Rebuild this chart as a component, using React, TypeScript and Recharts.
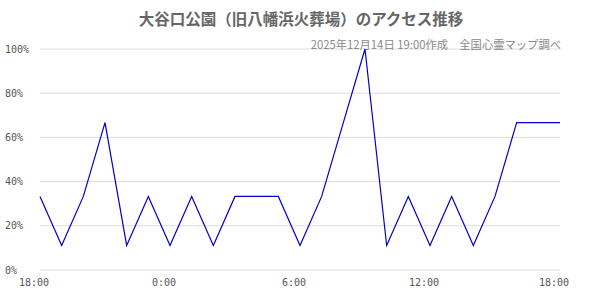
import React from "react";
import { LineChart, Line, XAxis, YAxis, CartesianGrid } from "recharts";

const TITLE = "大谷口公園（旧八幡浜火葬場）のアクセス推移";
const SUBTITLE = "2025年12月14日 19:00作成　全国心霊マップ調べ";

// hours since 18:00 of previous day
const hours = [0, 1, 2, 3, 4, 5, 6, 7, 8, 9, 10, 11, 12, 13, 14, 15, 16, 17, 18, 19, 20, 21, 22, 23, 24];
const access = [
  33.3, 11.1, 33.3, 66.7, 11.1, 33.3, 11.1, 33.3, 11.1, 33.3, 33.3, 33.3, 11.1,
  33.3, 66.7, 100, 11.1, 33.3, 11.1, 33.3, 11.1, 33.3, 66.7, 66.7, 66.7,
];
const xTicks = [0, 6, 12, 18, 24];
const xTickLabels = ["18:00", "0:00", "6:00", "12:00", "18:00"];
const yTicks = [0, 20, 40, 60, 80, 100];

const data = hours.map((h, i) => ({ h, v: access[i] }));

const MONO = '"DejaVu Sans Mono", "Liberation Mono", monospace';
const JP = '"Noto Sans CJK JP", sans-serif';

const XTick = (props: any) => {
  const { x, y, payload } = props;
  const idx = xTicks.indexOf(payload.value);
  return (
    <text x={x - 6} y={y + 4} textAnchor="middle" dominantBaseline="central" fontFamily={MONO} fontSize={10} fill="#555">
      {idx >= 0 ? xTickLabels[idx] : ""}
    </text>
  );
};

const YTick = (props: any) => {
  const { y, payload } = props;
  return (
    <text x={5} y={y} textAnchor="start" dominantBaseline="central" fontFamily={MONO} fontSize={10} fill="#555">
      {payload.value + "%"}
    </text>
  );
};

export default function App() {
  return (
    <div style={{ position: "absolute", left: 0, top: 0, width: 600, height: 300, background: "#fff" }}>
      <LineChart width={600} height={300} data={data} margin={{ top: 49, right: 40, bottom: 0, left: 0 }}>
        <text x={301} y={18} textAnchor="middle" dominantBaseline="central" fontFamily={JP} fontSize={15.5} fontWeight="bold" fill="#666">
          {TITLE}
        </text>
        <text x={561} y={44} textAnchor="end" dominantBaseline="central" fontFamily={JP} fontSize={11.3} fill="#888">
          {SUBTITLE}
        </text>
        <CartesianGrid vertical={false} stroke="#dddddd" />
        <XAxis
          dataKey="h"
          type="number"
          domain={[0, 24]}
          ticks={xTicks}
          axisLine={false}
          tickLine={false}
          height={30}
          tick={<XTick />}
          interval={0}
        />
        <YAxis
          type="number"
          domain={[0, 100]}
          ticks={yTicks}
          axisLine={false}
          tickLine={false}
          width={40}
          tick={<YTick />}
          interval={0}
        />
        <Line type="linear" dataKey="v" stroke="#0000cc" strokeWidth={1.2} dot={false} isAnimationActive={false} />
      </LineChart>
    </div>
  );
}
